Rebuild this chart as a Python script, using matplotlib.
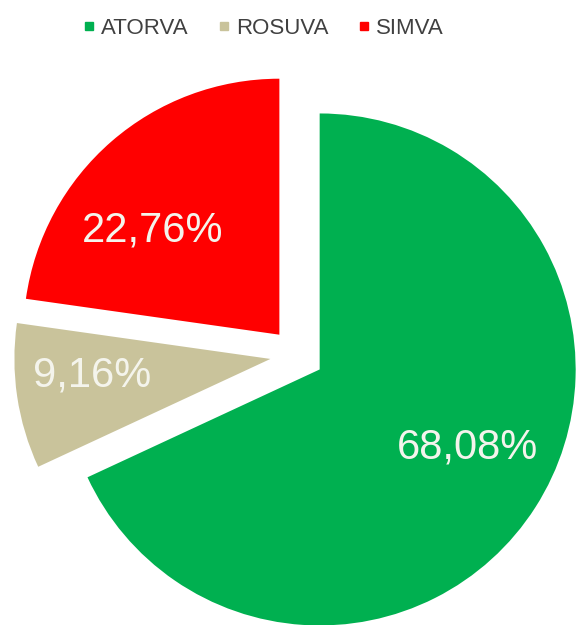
"""Pie chart of statin share (ATORVA / ROSUVA / SIMVA)."""

import matplotlib.pyplot as plt
from matplotlib.lines import Line2D

plt.rcParams["font.family"] = ["Liberation Sans", "DejaVu Sans"]

# data
drugs = ["ATORVA", "ROSUVA", "SIMVA"]
shares = [68.08, 9.16, 22.76]
colors = ["#00B050", "#C9C39B", "#FF0000"]

W, H = 579, 625
R_PX = 256.0
CX, CY = 297.0, 355.0  # pie centre in pixels (from top-left)

# label offsets from each wedge apex (in pie radii), tuned to the original
label_offsets = [(0.578, -0.305), (-0.695, -0.066), (-0.496, 0.406)]

fig = plt.figure(figsize=(W / 100, H / 100), dpi=100)
ax = fig.add_axes([0, 0, 1, 1])

wedges, _, autotexts = ax.pie(
    shares,
    colors=colors,
    startangle=90,
    counterclock=False,
    explode=[0.105] * len(shares),
    autopct=lambda p: f"{p:.2f}%".replace(".", ","),
    pctdistance=0.67,
    wedgeprops=dict(linewidth=0),
    textprops=dict(color="#F4F4EC", fontsize=30),
)

for wedge, txt, (dx, dy) in zip(wedges, autotexts, label_offsets):
    cx, cy = wedge.center
    txt.set_position((cx + dx, cy + dy))

ax.set_aspect("auto")
ax.set_xlim(-CX / R_PX, (W - CX) / R_PX)
ax.set_ylim(-(H - CY) / R_PX, CY / R_PX)
ax.axis("off")

handles = [
    Line2D([], [], marker="s", linestyle="none", markersize=6,
           markerfacecolor=c, markeredgecolor=c)
    for c in colors
]
fig.legend(
    handles, drugs,
    loc="center", bbox_to_anchor=(263 / W, 1 - 28 / H),
    ncol=3, frameon=False, fontsize=16,
    handlelength=0.6, handletextpad=0.25, columnspacing=1.3,
    labelcolor="#404040",
)

fig.savefig("out.png", dpi=100)
plt.close(fig)
